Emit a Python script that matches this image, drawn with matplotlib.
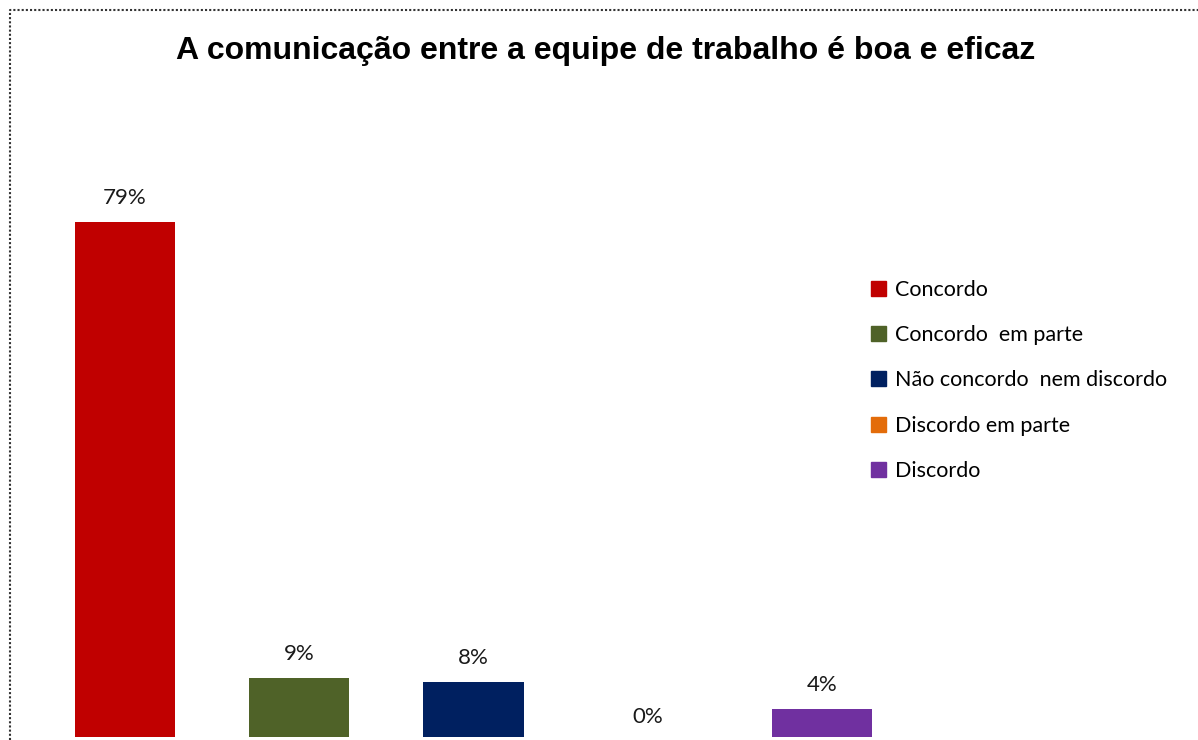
import matplotlib.pyplot as plt
import matplotlib.patches as mpatches
from matplotlib.lines import Line2D

# survey answers (bar heights, labels as printed)
categorias = ["Concordo", "Concordo  em parte", "Não concordo  nem discordo",
              "Discordo em parte", "Discordo"]
valores = [79, 9.1, 8.4, 0, 4.3]
rotulos = ["79%", "9%", "8%", "0%", "4%"]
cores = ["#C00000", "#4F6228", "#002060", "#E36C0A", "#7030A0"]

W, H = 1198, 740
fig = plt.figure(figsize=(W / 100, H / 100), dpi=100)
fig.patch.set_facecolor("white")

# bars area (pixels -> figure fractions)
left_px, right_px = 38, 909
base_px, top_px = 737, 737 - 90 * 6.52
ax = fig.add_axes([left_px / W, (H - base_px) / H,
                   (right_px - left_px) / W, (base_px - top_px) / H])
x = range(len(valores))
bars = ax.bar(x, valores, width=0.575, color=cores)
ax.set_xlim(-0.5, 4.5)
ax.set_ylim(0, 90)
ax.axis("off")

for i, (v, r) in enumerate(zip(valores, rotulos)):
    ax.annotate(r, (i, v), xytext=(0, 10 if v > 0 else 7), textcoords="offset points",
                ha="center", va="bottom", fontsize=16, family="Lato", color="#1a1a1a")

fig.text(606 / W, 1 - 51 / H, "A comunicação entre a equipe de trabalho é boa e eficaz",
         ha="center", va="center", fontsize=23, fontweight="bold",
         family="Liberation Sans")

# legend
handles = [mpatches.Patch(color=c, label=l) for c, l in zip(cores, categorias)]
fig.legend(handles=handles, loc="upper left", bbox_to_anchor=(862 / W, 1 - 271 / H),
           frameon=False, prop={"family": "Lato", "size": 15.5},
           handlelength=0.7, handleheight=0.7, handletextpad=0.45,
           labelspacing=1.18, borderaxespad=0)

# dashed chart border (left + top)
border = Line2D([10 / W, 10 / W, 1.0], [0.0, 1 - 10 / H, 1 - 10 / H],
                transform=fig.transFigure, color="#333333", lw=1.5,
                linestyle=(0, (1, 1)))
fig.add_artist(border)

fig.savefig("out.png", dpi=100, facecolor="white")
